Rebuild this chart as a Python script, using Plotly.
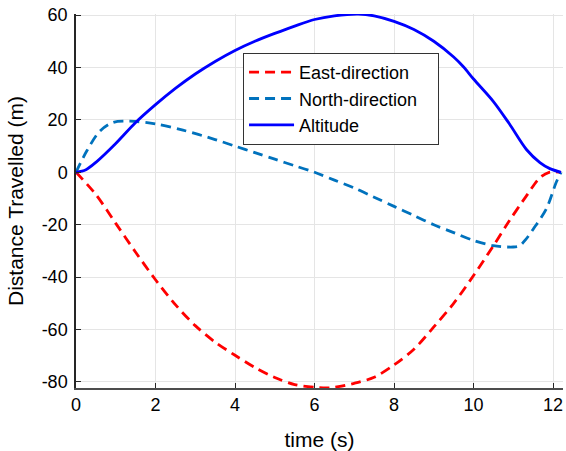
import plotly.graph_objects as go

t_alt = [0, 0.25, 0.5, 1, 1.5, 2, 2.5, 3, 3.5, 4, 4.5, 5, 5.5, 6, 6.5, 7.1, 7.5, 8, 8.5, 9, 9.5, 9.75, 10, 10.5, 10.9, 11.33, 11.67, 11.92, 12.2]
altitude = [0, 1, 3.8, 11, 19, 25.8, 32, 37.5, 42.3, 46.5, 50, 53, 55.8, 58.3, 59.7, 60.4, 59.7, 57.6, 54.5, 50, 44, 40.2, 35.6, 27, 18.5, 8.7, 3.7, 1.4, 0]

t_east = [0, 0.5, 1, 1.5, 2, 2.5, 3, 3.5, 4, 4.5, 5, 5.5, 6, 6.4, 7, 7.5, 8, 8.5, 9, 9.5, 10, 10.5, 10.9, 11.33, 11.66, 11.9, 12.2]
east = [0, -8.5, -19.5, -30.5, -41, -50.5, -58.5, -64.8, -69.8, -74.5, -78.3, -81, -82, -82.2, -80.5, -78.2, -73.5, -67.5, -59, -50, -39.4, -28, -18.5, -9, -2.2, 0, 0]

t_north = [0, 0.27, 0.6, 0.93, 1.36, 2, 2.69, 3.5, 4, 4.5, 5, 5.5, 6, 6.5, 7, 7.5, 8, 8.5, 9, 9.5, 10, 10.5, 11, 11.16, 11.32, 11.5, 11.83, 12.08, 12.2]
north = [0, 8.1, 15.7, 19, 19.5, 18.5, 16.1, 12.5, 10, 7.5, 5, 2.5, 0, -3, -6, -9.5, -13, -16.5, -20, -23, -26, -28, -28.5, -28, -25.5, -21.7, -14, -3.8, 0]

series_names = ["East-direction", "North-direction\u00a0\u00a0\u00a0", "Altitude"]

x_ticks = [0, 2, 4, 6, 8, 10, 12]
y_ticks = [-80, -60, -40, -20, 0, 20, 40, 60]
y_tick_text = ["-80", "-60", "-40", "-20", "0", "20", "40", "60"]

fig = go.Figure()
fig.add_trace(go.Scatter(x=t_east, y=east, mode="lines", name=series_names[0],
                         line=dict(color="#FF0000", width=2.8, dash="10px,6px", shape="spline", smoothing=0.9)))
fig.add_trace(go.Scatter(x=t_north, y=north, mode="lines", name=series_names[1],
                         line=dict(color="#0072BD", width=2.8, dash="10px,6px", shape="spline", smoothing=0.9)))
fig.add_trace(go.Scatter(x=t_alt, y=altitude, mode="lines", name=series_names[2],
                         line=dict(color="#0000FF", width=2.8, shape="spline", smoothing=0.9)))

font_family = "Liberation Sans, Arial, sans-serif"
fig.update_layout(
    width=566, height=451,
    margin=dict(l=76, r=3, t=14, b=62.5),
    paper_bgcolor="white", plot_bgcolor="white",
    font=dict(family=font_family, color="#000000"),
    showlegend=True,
    legend=dict(x=0.343, y=0.896, xanchor="left", yanchor="top",
                bgcolor="white", bordercolor="#333333", borderwidth=1,
                itemwidth=45, tracegroupgap=0,
                font=dict(size=18, family=font_family, color="#000000")),
    xaxis=dict(range=[0, 12.25], tickvals=x_ticks, ticks="inside", ticklen=5, tickcolor="#262626",
               showline=True, linecolor="#4d4d4d", linewidth=1.5, showgrid=True, gridcolor="#e5e5e5",
               zeroline=False, tickfont=dict(size=18), automargin=False,
               title=dict(text="time (s)", font=dict(size=21), standoff=19)),
    yaxis=dict(range=[-82.3, 60.4], tickvals=y_ticks, ticktext=y_tick_text, ticks="inside", ticklen=5,
               tickcolor="#262626", ticklabelstandoff=3,
               showline=True, linecolor="#262626", linewidth=1.5, showgrid=True, gridcolor="#e5e5e5",
               zeroline=False, tickfont=dict(size=18), automargin=False,
               title=dict(text="Distance Travelled (m)", font=dict(size=21), standoff=12)),
)

fig.write_html("out.html", config={"displayModeBar": False},
               post_script="document.body.style.margin='0';document.body.style.padding='0';")
